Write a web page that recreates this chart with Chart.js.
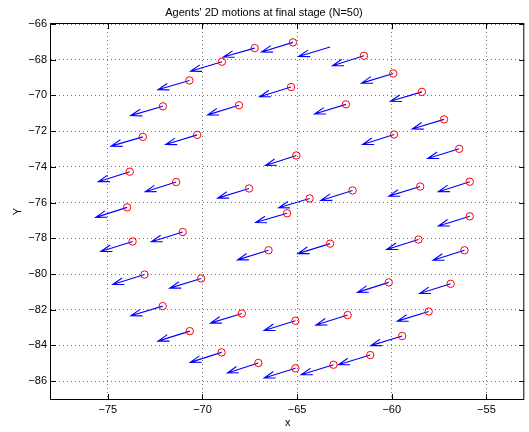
<!DOCTYPE html>
<html>
<head>
<meta charset="utf-8">
<title>Agents' 2D motions at final stage</title>
<script src="https://cdn.jsdelivr.net/npm/chart.js@4.4.1/dist/chart.umd.min.js"></script>
<style>
  body { margin: 0; background: #fff; }
  #quiver-chart { display: block; }
</style>
</head>
<body>
<canvas id="quiver-chart" width="529" height="432"></canvas>
<script>
// agent positions at the final stage
const posX = [-67.24, -68.97, -70.69, -72.09, -68.07, -73.15, -70.28, -65.22, -65.32, -63.26,
  -61.47, -59.92, -58.41, -62.42, -57.24, -59.88, -56.44, -65.04, -73.84, -71.39,
  -67.54, -73.98, -64.34, -65.53, -71.04, -73.69, -66.51, -73.06, -70.07, -62.07,
  -58.50, -55.88, -55.88, -63.26, -58.59, -56.16, -60.16, -56.89, -72.10, -67.92,
  -70.67, -65.09, -68.99, -67.05, -65.09, -62.33, -58.05, -59.45, -61.14, -63.08];
const posY = [-67.35, -68.11, -69.16, -70.61, -70.55, -72.32, -72.21, -67.03, -69.53, -67.29,
  -67.78, -68.77, -69.80, -70.50, -71.34, -72.19, -72.99, -73.36, -74.27, -74.85,
  -75.21, -76.27, -75.77, -76.60, -77.65, -78.18, -78.67, -80.03, -80.25, -75.32,
  -75.10, -74.83, -76.77, -78.30, -78.07, -78.67, -80.47, -80.55, -81.80, -82.21,
  -83.20, -82.62, -84.39, -84.98, -85.28, -82.30, -82.10, -83.47, -84.54, -85.08];

// velocity components drawn by the quiver
const velU = [-1.66, -1.66, -1.66, -1.70, -1.66, -1.68, -1.66, -1.66, -1.66, -1.66,
  -1.66, -1.68, -1.66, -1.66, -1.68, -1.66, -1.66, -1.63, -1.66, -1.63,
  -1.66, -1.66, -1.63, -1.66, -1.66, -1.68, -1.64, -1.68, -1.66, -1.68,
  -1.66, -1.66, -1.66, -1.70, -1.68, -1.66, -1.66, -1.64, -1.68, -1.66,
  -1.68, -1.65, -1.66, -1.63, -1.65, -1.68, -1.66, -1.66, -1.68, -1.71];
const velV = [-0.50, -0.54, -0.52, -0.52, -0.54, -0.52, -0.54, -0.54, -0.54, -0.53,
  -0.56, -0.54, -0.53, -0.54, -0.54, -0.56, -0.54, -0.56, -0.56, -0.54,
  -0.54, -0.56, -0.52, -0.52, -0.54, -0.56, -0.54, -0.56, -0.54, -0.56,
  -0.54, -0.56, -0.54, -0.56, -0.56, -0.56, -0.56, -0.54, -0.54, -0.54,
  -0.56, -0.54, -0.56, -0.56, -0.54, -0.56, -0.54, -0.54, -0.54, -0.56];

// this agent has an arrow but no marker in the figure
const unmarkedAgents = [9];

const xTicks = [-75, -70, -65, -60, -55];
const yTicks = [-86, -84, -82, -80, -78, -76, -74, -72, -70, -68, -66];

const fontFamily = '"Liberation Sans", Arial, Helvetica, sans-serif';

const markerPoints = posX
  .map((x, i) => ({ x, y: posY[i] }))
  .filter((p, i) => !unmarkedAgents.includes(i));

const minusLabel = (v) => (v < 0 ? '\u2212' + Math.abs(v) : String(v));

// MATLAB-like quiver arrows, head computed in data units
const quiverPlugin = {
  id: 'quiver',
  beforeDatasetsDraw(chart) {
    const { ctx, scales: { x, y } } = chart;
    const alpha = 0.33;
    const beta = 0.33;
    ctx.save();
    ctx.strokeStyle = '#0000ff';
    ctx.lineWidth = 1.1;
    posX.forEach((px, i) => {
      const py = posY[i];
      const u = velU[i];
      const v = velV[i];
      const tipX = px + u;
      const tipY = py + v;
      const b1x = tipX - alpha * (u + beta * v);
      const b1y = tipY - alpha * (v - beta * u);
      const b2x = tipX - alpha * (u - beta * v);
      const b2y = tipY - alpha * (v + beta * u);
      ctx.beginPath();
      ctx.moveTo(x.getPixelForValue(px), y.getPixelForValue(py));
      ctx.lineTo(x.getPixelForValue(tipX), y.getPixelForValue(tipY));
      ctx.moveTo(x.getPixelForValue(b1x), y.getPixelForValue(b1y));
      ctx.lineTo(x.getPixelForValue(tipX), y.getPixelForValue(tipY));
      ctx.lineTo(x.getPixelForValue(b2x), y.getPixelForValue(b2y));
      ctx.stroke();
    });
    ctx.restore();
  },
  afterDraw(chart) {
    const { ctx, chartArea: { left, right, top, bottom }, scales: { x, y } } = chart;
    const tickLen = 5;
    ctx.save();
    ctx.strokeStyle = '#000';
    ctx.lineWidth = 1;
    ctx.beginPath();
    xTicks.forEach((v) => {
      const px = Math.round(x.getPixelForValue(v)) + 0.5;
      ctx.moveTo(px, bottom);
      ctx.lineTo(px, bottom - tickLen);
      ctx.moveTo(px, top);
      ctx.lineTo(px, top + tickLen);
    });
    yTicks.forEach((v) => {
      const py = Math.round(y.getPixelForValue(v)) + 0.5;
      ctx.moveTo(left, py);
      ctx.lineTo(left + tickLen, py);
      ctx.moveTo(right, py);
      ctx.lineTo(right - tickLen, py);
    });
    ctx.stroke();
    ctx.strokeRect(left - 0.5, top - 0.5, right - left, bottom - top + 1);
    ctx.restore();
  },
};

const ctx = document.getElementById('quiver-chart').getContext('2d');

// eslint-disable-next-line no-undef,no-unused-vars
const chart = new Chart(ctx, {
  type: 'scatter',
  data: {
    datasets: [{
      label: 'agents',
      data: markerPoints,
      pointStyle: 'circle',
      pointRadius: 3.7,
      pointHoverRadius: 3.7,
      pointBorderWidth: 1,
      borderColor: '#ff0000',
      backgroundColor: 'rgba(0,0,0,0)',
    }],
  },
  options: {
    responsive: false,
    animation: false,
    devicePixelRatio: 1,
    layout: { padding: { left: 0, right: 1, top: 0, bottom: 0 } },
    plugins: {
      legend: { display: false },
      tooltip: { enabled: false },
      title: {
        display: true,
        text: "Agents' 2D motions at final stage (N=50)",
        color: '#000',
        font: { family: fontFamily, size: 11, weight: 'normal', lineHeight: 1.2 },
        padding: { top: 6, bottom: 4.8 },
      },
    },
    scales: {
      x: {
        type: 'linear',
        min: -78,
        max: -53,
        afterBuildTicks: (scale) => { scale.ticks = xTicks.map((value) => ({ value })); },
        afterFit: (scale) => { scale.height = 33; },
        border: { display: false, dash: [1, 3] },
        grid: { color: '#707070', drawTicks: false, lineWidth: 1 },
        ticks: {
          padding: 4,
          color: '#000',
          font: { family: fontFamily, size: 11 },
          callback: (v) => minusLabel(v),
        },
        title: {
          display: true,
          text: 'x',
          color: '#000',
          font: { family: fontFamily, size: 11 },
          padding: { top: 0, bottom: 2 },
        },
      },
      y: {
        type: 'linear',
        min: -87,
        max: -66,
        afterBuildTicks: (scale) => { scale.ticks = yTicks.map((value) => ({ value })); },
        afterFit: (scale) => { scale.width = 51; },
        border: { display: false, dash: [1, 3] },
        grid: { color: '#707070', drawTicks: false, lineWidth: 1 },
        ticks: {
          padding: 4,
          color: '#000',
          font: { family: fontFamily, size: 11 },
          callback: (v) => minusLabel(v),
        },
        title: {
          display: true,
          text: 'Y',
          color: '#000',
          font: { family: fontFamily, size: 11 },
          padding: { top: 11, bottom: 0 },
        },
      },
    },
  },
  plugins: [quiverPlugin],
});
</script>
</body>
</html>
